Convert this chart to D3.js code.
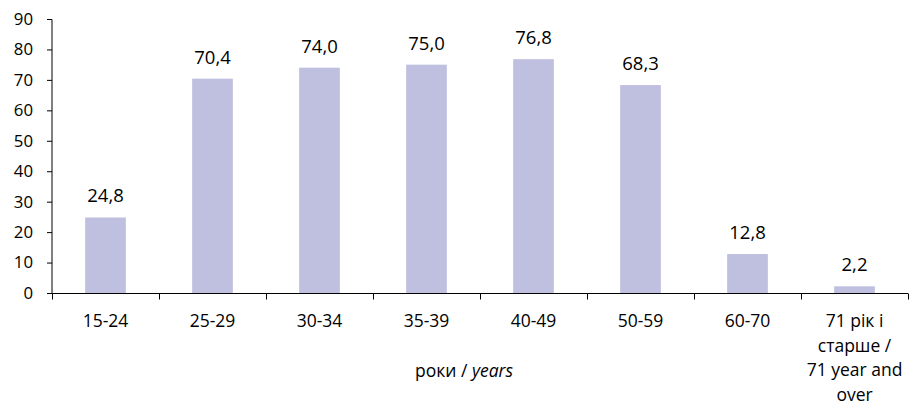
<!DOCTYPE html>
<html><head><meta charset="utf-8">
<script src="https://cdn.jsdelivr.net/npm/d3@7"></script>
<style>body{margin:0;background:#fff}svg{display:block}text{font-family:"Open Sans",sans-serif;fill:#000}</style>
</head><body>
<script>
const categories = ["15-24","25-29","30-34","35-39","40-49","50-59","60-70","71 рік і|старше /|71 year and|over"];
const values = [24.8,70.4,74.0,75.0,76.8,68.3,12.8,2.2];
const yTicks = [0,10,20,30,40,50,60,70,80,90];
const axisTitle = ["роки / ", "years"];

const W=911,H=406;
const svg=d3.select("body").append("svg").attr("width",W).attr("height",H);
const x=d3.scaleBand().domain(categories).range([52,908]).paddingInner(0.62).paddingOuter(0.31);
const xb=d3.scaleBand().domain(categories).range([52,908]);
const y=d3.scaleLinear().domain([0,90]).range([293,19]);

svg.selectAll("rect.bar").data(values).join("rect")
 .attr("x",(d,i)=>x(categories[i])).attr("width",x.bandwidth())
 .attr("y",d=>y(d)).attr("height",d=>y(0)-y(d)).attr("fill","#bfbfdf");

svg.selectAll("text.val").data(values).join("text")
 .attr("x",(d,i)=>x(categories[i])+x.bandwidth()/2).attr("y",d=>y(d)-15)
 .attr("text-anchor","middle").attr("font-size",18.5).text(d=>d.toFixed(1).replace(".",","));

// y axis
const ya=svg.append("g").attr("transform","translate(52,0)").call(d3.axisLeft(y).tickValues(yTicks).tickSize(5).tickPadding(14).tickFormat(d=>d));
ya.select(".domain").attr("stroke","#000").attr("d","M0,19.5V293.5");
ya.selectAll(".tick line").attr("stroke","#000");
ya.selectAll("text").attr("font-size",16.8).attr("font-family","Open Sans");

// x axis
const xa=svg.append("g").attr("transform","translate(0,293.5)");
xa.append("line").attr("x1",52).attr("x2",908).attr("stroke","#000");
const bounds=categories.map(c=>xb(c)).concat([xb(categories[categories.length-1])+xb.bandwidth()]);
xa.selectAll("line.tk").data(bounds).join("line").attr("class","tk")
 .attr("x1",d=>Math.round(d)+0.5).attr("x2",d=>Math.round(d)+0.5).attr("y1",0).attr("y2",6).attr("stroke","#000");
categories.forEach(c=>{
  const t=svg.append("text").attr("text-anchor","middle").attr("font-size",17.5)
   .attr("x",xb(c)+xb.bandwidth()/2);
  c.split("|").forEach((l,i)=>t.append("tspan").attr("x",xb(c)+xb.bandwidth()/2).attr("y",327+i*24.5).text(l));
});
const tt=svg.append("text").attr("text-anchor","middle").attr("font-size",17.5).attr("x",464).attr("y",377);
tt.append("tspan").text(axisTitle[0]);
tt.append("tspan").attr("font-style","italic").text(axisTitle[1]);
</script>
</body></html>
